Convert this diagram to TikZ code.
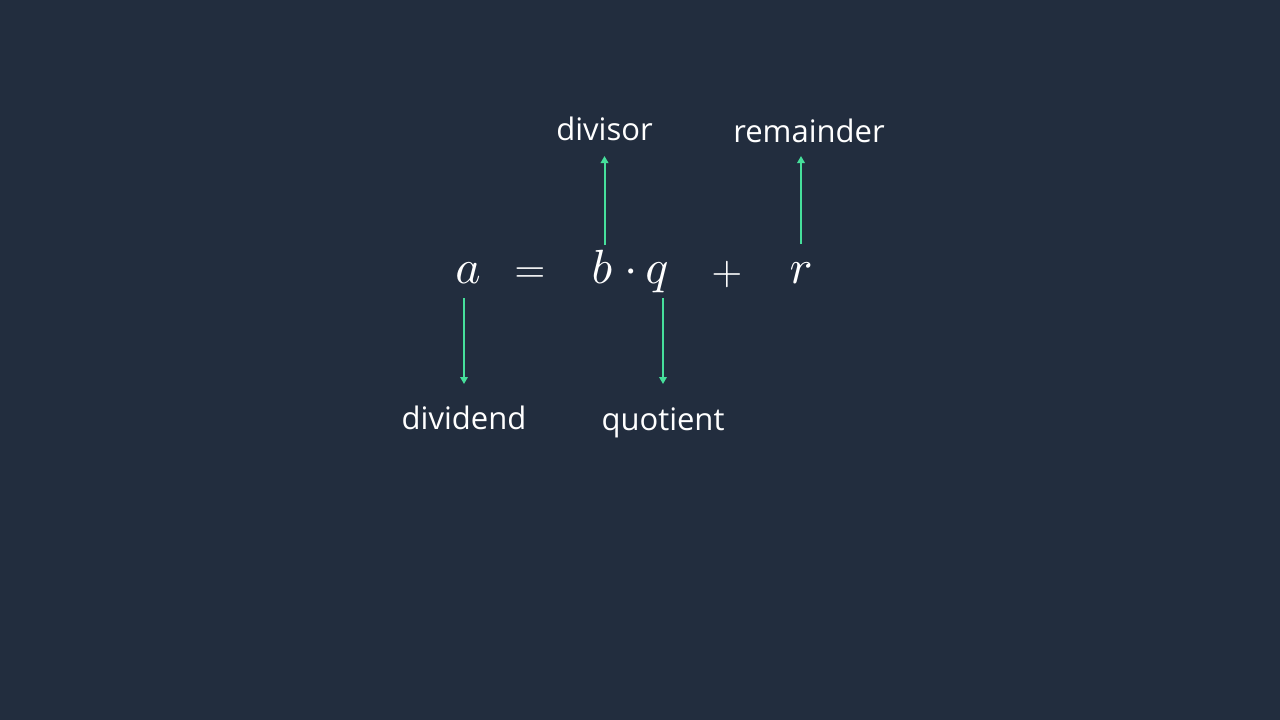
\documentclass[tikz,border=0pt]{standalone}
\usepackage{fontspec}
\setmainfont{Open Sans}
\usetikzlibrary{arrows.meta,calc}
\definecolor{bg}{HTML}{222D3E}
\definecolor{arr}{HTML}{46DF9B}
\begin{document}
\begin{tikzpicture}[x=1pt,y=-1pt,
  mathsym/.style={inner sep=0pt,anchor=base,text=white,scale=4.8},
  mathop/.style={inner sep=0pt,anchor=base,text=white,scale=4.0},
  lbl/.style={inner sep=0pt,anchor=base,text=white,font=\fontsize{31}{36}\selectfont},
  conn/.style={draw=arr,line width=2pt,-{Triangle[width=7.5pt,length=7pt]}}]
\fill[bg] (0,0) rectangle (1280,720);
\useasboundingbox (0,0) rectangle (1280,720);
% equation
\node[mathsym] (a) at (468,283) {$a$};
\node[mathop] (eq) at (530,282) {$=$};
\node[mathsym] (b) at (602,283) {$b$};
\node[mathsym] (dot) at (631,283) {$\cdot$};
\node[mathsym] (q) at (657,283) {$q$};
\node[mathop] (plus) at (727,284) {$+$};
\node[mathsym] (r) at (801,283) {$r$};
% labels
\node[lbl] (divisor) at (604.5,140) {divisor};
\node[lbl] (remainder) at (809,142) {remainder};
\node[lbl] (dividend) at (464,429) {dividend};
\node[lbl] (quotient) at (663,430) {quotient};
% connectors
\draw[conn] ($(b.base -| divisor.base)+(0,-38)$) -- ($(divisor.base)+(0,16)$);
\draw[conn] ($(r.base)+(0,-39)$) -- ($(r.base |- remainder.base)+(0,14)$);
\draw[conn] ($(a.base -| dividend.base)+(0,15)$) -- ($(dividend.base)+(0,-45)$);
\draw[conn] ($(q.base -| quotient.base)+(0,15)$) -- ($(quotient.base)+(0,-46)$);
\end{tikzpicture}
\end{document}
